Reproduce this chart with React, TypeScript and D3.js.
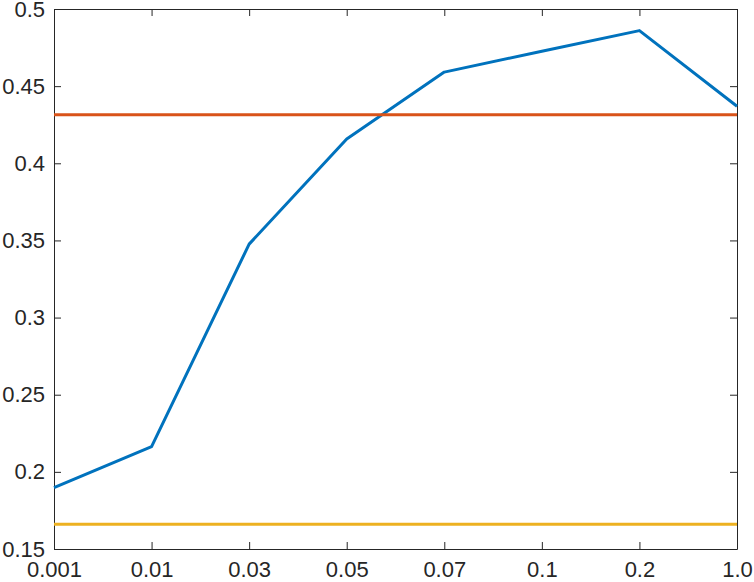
import React, { useEffect, useRef } from 'react';
import * as d3 from 'd3';

const categories = ['0.001', '0.01', '0.03', '0.05', '0.07', '0.1', '0.2', '1.0'];
const curveValues = [0.1898, 0.2163, 0.3476, 0.4157, 0.4591, 0.4726, 0.486, 0.437];
const orangeLevel = [0.4315];
const yellowLevel = [0.166];
const yTicks = [0.15, 0.2, 0.25, 0.3, 0.35, 0.4, 0.45, 0.5];

const W = 754;
const H = 582;
const margin = { top: 9, right: 17, bottom: 33, left: 54 };

const App = () => {
  const svgRef = useRef<SVGSVGElement | null>(null);

  useEffect(() => {
    if (!svgRef.current) return;
    const svg = d3.select(svgRef.current);
    svg.selectAll('*').remove();

    const x = d3.scalePoint<string>()
      .domain(categories)
      .range([margin.left, W - margin.right]);
    const y = d3.scaleLinear()
      .domain([0.15, 0.5])
      .range([H - margin.bottom, margin.top]);

    const axisColor = '#262626';
    const font = '"Liberation Sans", Arial, sans-serif';

    // bottom axis with inward ticks
    const xAxis = d3.axisBottom(x).tickSizeInner(-7).tickSizeOuter(0).tickPadding(12);
    const gx = svg.append('g')
      .attr('transform', `translate(0,${H - margin.bottom})`)
      .call(xAxis);
    gx.selectAll('text').attr('font-size', 22).attr('font-family', font).attr('fill', axisColor);

    const gxTop = svg.append('g')
      .attr('transform', `translate(0,${margin.top})`)
      .call(d3.axisTop(x).tickSizeInner(-7).tickSizeOuter(0).tickFormat(() => ''));

    const yAxis = d3.axisLeft(y).tickValues(yTicks).tickFormat(d3.format('~g'))
      .tickSizeInner(-7).tickSizeOuter(0).tickPadding(9);
    const gy = svg.append('g')
      .attr('transform', `translate(${margin.left},0)`)
      .call(yAxis);
    gy.selectAll('text').attr('font-size', 22).attr('font-family', font).attr('fill', axisColor);

    const gyRight = svg.append('g')
      .attr('transform', `translate(${W - margin.right},0)`)
      .call(d3.axisRight(y).tickValues(yTicks).tickSizeInner(-7).tickSizeOuter(0).tickFormat(() => ''));

    [gx, gxTop, gy, gyRight].forEach((g) => {
      g.selectAll('path, line').attr('stroke', axisColor);
    });

    const line = d3.line<number>()
      .x((_, i) => x(categories[i]) as number)
      .y((d) => y(d));

    svg.append('path')
      .datum(curveValues)
      .attr('fill', 'none')
      .attr('stroke', '#0072BD')
      .attr('stroke-width', 3)
      .attr('stroke-linejoin', 'round')
      .attr('d', line);

    const flat = [
      { v: orangeLevel[0], c: '#D95319' },
      { v: yellowLevel[0], c: '#EDB120' },
    ];
    svg.selectAll('.flat')
      .data(flat)
      .join('line')
      .attr('class', 'flat')
      .attr('x1', margin.left)
      .attr('x2', W - margin.right)
      .attr('y1', (d) => y(d.v))
      .attr('y2', (d) => y(d.v))
      .attr('stroke', (d) => d.c)
      .attr('stroke-width', 3);
  }, []);

  return (
    <svg
      ref={svgRef}
      width={W}
      height={H}
      style={{ position: 'absolute', left: 0, top: 0, background: '#fff' }}
    />
  );
};

export default App;
